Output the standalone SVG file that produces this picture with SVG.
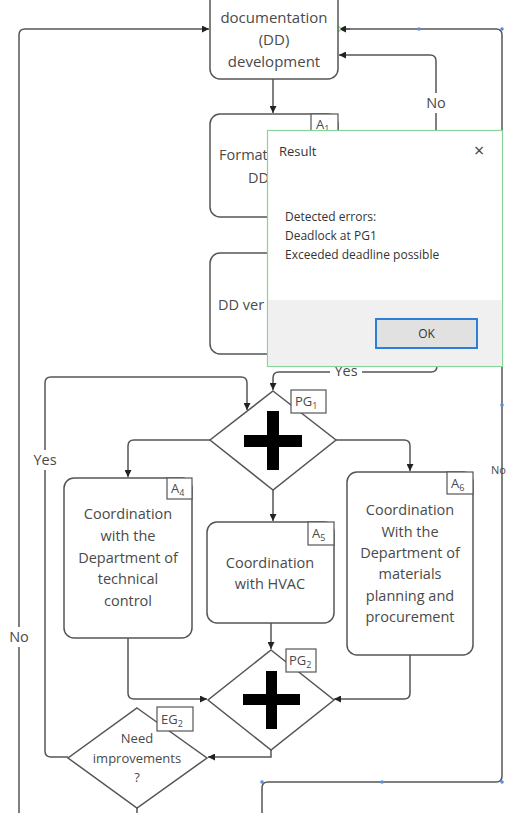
<svg xmlns="http://www.w3.org/2000/svg" width="509" height="813" viewBox="0 0 509 813">
<defs>
<marker id="arr" viewBox="0 0 8 8" refX="8" refY="4" markerWidth="7" markerHeight="7" markerUnits="userSpaceOnUse" orient="auto">
<path d="M0,0 L8,4 L0,8 z" fill="#222"/>
</marker>
<style>
.box{fill:#fff;stroke:#555;stroke-width:1.5}
.lbl{fill:#fff;stroke:#555;stroke-width:1.2}
.t{font-family:"Open Sans","Noto Sans",sans-serif;font-size:14.5px;fill:#4a4a4a;text-anchor:middle}
.ts{font-family:"Open Sans","Noto Sans",sans-serif;font-size:13px;fill:#4a4a4a}
.sub{font-size:9px}
.c{fill:none;stroke:#555;stroke-width:1.5}
.ca{fill:none;stroke:#555;stroke-width:1.5;marker-end:url(#arr)}
.dlg{font-family:"Open Sans","Noto Sans",sans-serif;font-size:12px;fill:#333}
.dot{fill:#5b8fd9}
</style>
</defs>
<rect width="509" height="813" fill="#fff"/>

<g id="connectors">
<path class="ca" d="M273,79 V113"/>
<path class="c" d="M262,813 V788 Q262,782 268,782 H496 Q502,782 502,776 V35 Q502,29 496,29 H345"/>
<path class="ca" d="M350,29 H339"/>
<path class="ca" d="M436,200 V61 Q436,55 430,55 H339"/>
<path class="ca" d="M437,340 V366 Q437,372 431,372 H279 Q273,372 273,378 V390"/>
<path class="ca" d="M68,757 H51 Q45,757 45,751 V383 Q45,377 51,377 H241 Q247,377 247,383 V410"/>
<path class="ca" d="M210,440 H134 Q128,440 128,446 V477"/>
<path class="ca" d="M273,490 V521"/>
<path class="ca" d="M336,440 H404 Q410,440 410,446 V471"/>
<path class="ca" d="M128,638 V693 Q128,699 134,699 H207"/>
<path class="ca" d="M271,623 V649"/>
<path class="ca" d="M410,655 V693 Q410,699 404,699 H334"/>
<path class="ca" d="M271,750 V757 H208"/>
<path class="ca" d="M19,813 V35 Q19,29 25,29 H209"/>
<path class="c" d="M137,808 V813"/>
<circle cx="338" cy="29" r="2.5" fill="#fff" stroke="#6cbf6c" stroke-width="1"/>
<circle class="dot" cx="419" cy="29" r="1.8"/>
<circle class="dot" cx="502" cy="29" r="1.8"/>
<circle class="dot" cx="502" cy="405" r="1.8"/>
<circle class="dot" cx="502" cy="782" r="1.8"/>
<circle class="dot" cx="382" cy="782" r="1.8"/>
<circle class="dot" cx="262" cy="782" r="1.8"/>
<rect x="426" y="93" width="20" height="20" fill="#fff"/>
<text class="t" x="436" y="108">No</text>
<rect x="30" y="450" width="30" height="20" fill="#fff"/>
<text class="t" x="45" y="465">Yes</text>
<rect x="6" y="627" width="26" height="20" fill="#fff"/>
<text class="t" x="19" y="642">No</text>
<rect x="330" y="365" width="32" height="14" fill="#fff"/>
<text class="t" x="346" y="376">Yes</text>
<text class="ts" style="font-size:11px" x="491" y="474" fill="#5a5a3a">No</text>
</g>

<g id="dd-development">
<rect class="box" x="210" y="-20" width="128" height="99" rx="10"/>
<text class="t" style="font-size:15px" x="274" y="23">documentation</text>
<text class="t" style="font-size:15px" x="274" y="45">(DD)</text>
<text class="t" style="font-size:15px" x="274" y="67">development</text>
</g>

<g id="a1">
<rect class="box" x="210" y="114" width="128" height="103" rx="10"/>
<rect class="lbl" x="311" y="114" width="27" height="21"/>
<text class="ts" x="316" y="129">A<tspan class="sub" dy="3">1</tspan></text>
<text class="t" x="219" y="160" style="text-anchor:start">Format</text>
<text class="t" x="248" y="183" style="text-anchor:start">DD</text>
</g>

<g id="a2">
<rect class="box" x="210" y="253" width="128" height="101" rx="10"/>
<text class="t" x="218" y="310" style="text-anchor:start">DD ver</text>
</g>

<g id="pg1">
<polygon class="box" points="273,391 336,440 273,490 210,440"/>
<rect x="244" y="435" width="58" height="12" fill="#000"/>
<rect x="267" y="411" width="12" height="59" fill="#000"/>
<rect class="lbl" x="291" y="390" width="35" height="23"/>
<text class="ts" x="295" y="406">PG<tspan class="sub" dy="3">1</tspan></text>
</g>

<g id="a4">
<rect class="box" x="64" y="478" width="128" height="160" rx="10"/>
<rect class="lbl" x="167" y="478" width="25" height="21"/>
<text class="ts" x="171" y="493">A<tspan class="sub" dy="3">4</tspan></text>
<text class="t" x="128" y="519">Coordination</text>
<text class="t" x="128" y="541">with the</text>
<text class="t" x="128" y="563">Department of</text>
<text class="t" x="128" y="584">technical</text>
<text class="t" x="128" y="606">control</text>
</g>

<g id="a5">
<rect class="box" x="207" y="522" width="127" height="101" rx="10"/>
<rect class="lbl" x="308" y="522" width="26" height="23"/>
<text class="ts" x="312" y="538">A<tspan class="sub" dy="3">5</tspan></text>
<text class="t" x="270" y="568">Coordination</text>
<text class="t" x="270" y="589">with HVAC</text>
</g>

<g id="a6">
<rect class="box" x="347" y="472" width="126" height="183" rx="10"/>
<rect class="lbl" x="447" y="472" width="26" height="22"/>
<text class="ts" x="451" y="488">A<tspan class="sub" dy="3">6</tspan></text>
<text class="t" x="410" y="515">Coordination</text>
<text class="t" x="410" y="537">With the</text>
<text class="t" x="410" y="558">Department of</text>
<text class="t" x="410" y="579">materials</text>
<text class="t" x="410" y="601">planning and</text>
<text class="t" x="410" y="622">procurement</text>
</g>

<g id="pg2">
<polygon class="box" points="271,650 334,700 271,750 208,700"/>
<rect x="243" y="694" width="57" height="11" fill="#000"/>
<rect x="266" y="671" width="11" height="58" fill="#000"/>
<rect class="lbl" x="286" y="649" width="30" height="23"/>
<text class="ts" x="289" y="665">PG<tspan class="sub" dy="3">2</tspan></text>
</g>

<g id="eg2">
<polygon class="box" points="137,708 207,758 137,808 68,758"/>
<rect class="lbl" x="157" y="707" width="36" height="24"/>
<text class="ts" x="161" y="724">EG<tspan class="sub" dy="3">2</tspan></text>
<text class="t" style="font-size:13px" x="137" y="743">Need</text>
<text class="t" style="font-size:13px" x="137" y="763">improvements</text>
<text class="t" style="font-size:13px" x="137" y="782">?</text>
</g>

<g id="result-dialog">
<rect x="267.5" y="130.5" width="235" height="236" fill="#fff" stroke="#86d49a" stroke-width="1.2"/>
<rect x="268" y="300" width="234" height="66" fill="#f0f0f0"/>
<text class="dlg" style="font-size:13px" x="279" y="156">Result</text>
<text class="dlg" style="font-size:18px;fill:#444" x="474" y="157">×</text>
<text class="dlg" x="285" y="221">Detected errors:</text>
<text class="dlg" x="285" y="240">Deadlock at PG1</text>
<text class="dlg" x="285" y="259">Exceeded deadline possible</text>
<rect x="376" y="319" width="101" height="29" fill="#e1e1e1" stroke="#2b7fd6" stroke-width="2"/>
<text class="dlg" x="426.5" y="338" style="text-anchor:middle">OK</text>
</g>
</svg>
